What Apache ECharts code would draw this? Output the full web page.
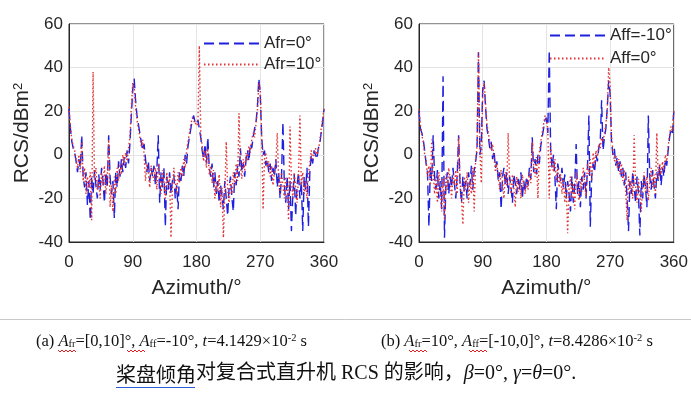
<!DOCTYPE html>
<html>
<head>
<meta charset="utf-8">
<script src="https://cdn.jsdelivr.net/npm/echarts@6/dist/echarts.min.js"></script>
<style>
html,body{margin:0;padding:0;background:#fff;}
#chart{width:691px;height:398px;}
</style>
</head>
<body>
<div id="chart"></div>
<script>
// Azimuth sample grid (degrees)
const azimuth = [
  0,2,4,6,8,10,12,14,16,18,
  20,22,24,26,28,30,32,34,36,38,
  40,42,44,46,48,50,52,54,56,58,
  60,62,64,66,68,70,72,74,76,78,
  80,82,84,86,88,90,92,94,96,98,
  100,102,104,106,108,110,112,114,116,118,
  120,122,124,126,128,130,132,134,136,138,
  140,142,144,146,148,150,152,154,156,158,
  160,162,164,166,168,170,172,174,176,178,
  180,182,184,186,188,190,192,194,196,198,
  200,202,204,206,208,210,212,214,216,218,
  220,222,224,226,228,230,232,234,236,238,
  240,242,244,246,248,250,252,254,256,258,
  260,262,264,266,268,270,272,274,276,278,
  280,282,284,286,288,290,292,294,296,298,
  300,302,304,306,308,310,312,314,316,318,
  320,322,324,326,328,330,332,334,336,338,
  340,342,344,346,348,350,352,354,356,358,
  360
];

// (a) Afr = 0°
const rcsAfr0 = [
  21,12,6,3,1,-3,-8,-2,-6,9,
  -10,-15,-8,-23,-12,-30,-10,-18,-7,-14,
  -20,-9,-16,-6,-12,-22,-8,-15,9,-10,
  -18,-12,-29,-8,-15,-3,-10,-2,-8,-1,
  -6,2,-4,5,18,30,35,25,18,14,
  10,6,2,5,-2,-8,-3,-12,-6,-10,
  -5,-14,-7,9,-22,-8,-15,-6,-33,-10,
  -16,-8,-18,-12,-9,-20,-14,-25,-8,-12,
  -5,-10,0,-4,4,8,12,16,18,15,
  14,16,12,8,2,-2,5,-4,8,-6,
  -10,-4,-15,-8,-18,-12,-22,-14,-19,-25,
  -12,-20,-28,-15,-10,-20,-26,-8,-14,-5,
  -10,3,-8,-4,-10,-2,2,-3,5,3,
  8,12,15,22,35,28,8,0,2,-5,
  -2,-8,-4,-12,-6,-10,-2,-15,-8,-20,
  -10,15,-14,-22,-10,-25,-12,-35,-18,-9,
  -28,-14,-8,-20,-12,-35,-10,-16,-6,-33,
  -8,0,-4,2,0,-2,3,5,10,15,
  21
];

// (a) Afr = 10°
const rcsAfr10 = [
  22,13,7,4,2,-2,-6,0,-8,6,
  -12,-6,-18,-10,-15,-8,-30,38,-12,-6,
  -16,-11,-20,-8,-14,-5,-18,-10,7,-24,
  -14,-26,-10,-18,-6,-12,-4,-9,0,-5,
  1,-3,3,8,22,33,31,22,16,12,
  8,4,7,0,-12,-4,-8,-15,-5,-9,
  -12,-6,-16,-4,-10,-18,-7,-12,-20,-8,
  -14,-10,-38,-15,-6,-12,-18,-8,-13,-6,
  -10,-2,-6,2,6,10,14,17,16,14,
  15,13,50,10,4,-3,2,-6,3,-9,
  -5,-13,-7,-20,-12,-17,-9,-24,-15,-38,
  -18,6,-16,-22,-12,-18,-8,-14,-4,-12,
  19,-6,-11,-2,-7,1,-3,4,1,7,
  10,8,14,20,33,30,10,-25,-2,1,
  -6,-3,-10,-5,-14,-8,-4,10,-12,-18,
  -8,-14,-20,-10,-16,-30,13,-12,-20,-8,
  -15,-22,-10,18,-14,-8,-18,-12,-20,-9,
  -4,2,-2,0,3,0,2,6,12,16,
  22
];

// (b) Aff = -10°
const rcsAffM10 = [
  20,12,10,7,2,-4,-8,-33,-6,-12,
  9,-10,-16,-7,-20,-12,-25,36,-38,-14,
  -8,-18,-10,-15,-6,-13,-20,-9,9,-14,
  -22,-10,-17,-12,-20,-8,-14,-5,-16,-7,
  -3,2,47,0,4,30,34,22,12,8,
  3,6,-2,2,-6,-3,-12,-8,-25,-10,
  -6,-14,-8,-18,-10,-15,-22,-9,-13,-18,
  -11,-16,-8,-20,-12,-17,-10,-14,-6,-11,
  8,-8,-2,-9,0,-4,4,8,12,16,
  17,10,48,2,-6,0,-10,-25,-4,-8,
  -12,-6,-15,-9,-20,-12,-18,-26,-10,-22,
  -14,5,-18,-12,-24,-10,-16,-8,-20,-6,
  18,-33,-10,-4,-8,0,-3,3,6,25,
  2,8,12,22,34,28,6,0,3,-5,
  -1,-8,-3,-10,-6,-14,-8,-20,-35,-12,
  -18,-8,-15,-22,-10,-17,-37,-12,-20,-9,
  -15,-24,18,-10,-16,-7,-14,-20,-8,-12,
  -5,-14,-6,-10,-2,-5,2,8,12,10,
  20
];

// (b) Aff = 0°
const rcsAff0 = [
  21,14,9,6,0,-2,-10,-5,-14,7,
  -8,-18,-10,-22,-8,-15,-26,-11,-30,-9,
  -16,-6,-12,-20,-9,-14,-7,-18,8,-12,
  -20,-32,-10,-16,-8,-22,-12,-18,-6,-26,
  -2,4,47,2,-13,28,33,24,14,10,
  6,2,5,-1,-8,-4,-10,-16,-7,-12,
  -20,-8,-14,10,-12,-18,-9,-15,-24,-10,
  -17,-12,-20,-9,-14,-18,-11,-16,-8,-13,
  6,-5,-10,-1,-20,1,6,10,14,18,
  16,12,-20,4,-3,-8,-2,-12,-6,-15,
  -9,-18,-11,-22,-14,-36,-16,-10,-20,-13,
  -25,-8,-15,-21,-11,-17,-6,-13,-19,-4,
  -9,-2,-12,1,-5,2,-1,5,3,8,
  6,10,14,20,40,32,8,2,-3,0,
  -6,-2,-9,-4,-12,-7,-16,-30,-10,-18,
  -12,-20,9,-14,-22,-11,-18,-26,-13,-8,
  -17,-10,-21,-12,-6,-15,-9,-18,10,-11,
  -4,-9,-3,-7,0,-3,4,9,13,11,
  21
];

const xTicks = [0, 90, 180, 270, 360];
const yTicks = [-40, -20, 0, 20, 40, 60];
const legendA = ['Afr=0°', 'Afr=10°'];
const legendB = ['Aff=-10°', 'Aff=0°'];

const SANS = "'Liberation Sans', Arial, sans-serif";
const SERIF = "'Liberation Serif', 'Times New Roman', 'Noto Sans CJK SC', serif";
const INK = '#262626';
const BLUE = '#1f1fe0';
const RED = '#e03333';

function pair(xs, ys) { return xs.map((x, i) => [x, ys[i]]); }

function xAxisCfg(gi) {
  return {
    type: 'value', gridIndex: gi, min: xTicks[0], max: xTicks[xTicks.length - 1], interval: 90,
    name: 'Azimuth/°', nameLocation: 'middle', nameGap: 36,
    nameTextStyle: { fontFamily: SANS, fontSize: 21, color: INK },
    axisLine: { show: true, onZero: false, lineStyle: { color: INK, width: 1 } },
    axisTick: { show: false },
    axisLabel: { fontFamily: SANS, fontSize: 17, color: INK, margin: 12 },
    splitLine: { show: true, lineStyle: { color: '#e4e4e4', width: 1 } }
  };
}
function yAxisCfg(gi) {
  return {
    type: 'value', gridIndex: gi, min: yTicks[0], max: yTicks[yTicks.length - 1], interval: 20,
    name: '{a|RCS/dBm}{s|2}', nameLocation: 'middle', nameGap: 36,
    nameTextStyle: {
      color: INK,
      rich: {
        a: { fontFamily: SANS, fontSize: 21, color: INK },
        s: { fontFamily: SANS, fontSize: 13, color: INK, verticalAlign: 'top' }
      }
    },
    axisLine: { show: true, onZero: false, lineStyle: { color: INK, width: 1 } },
    axisTick: { show: false },
    axisLabel: { fontFamily: SANS, fontSize: 17, color: INK, margin: 6 },
    splitLine: { show: true, lineStyle: { color: '#e4e4e4', width: 1 } }
  };
}
function lineSeries(name, gi, ys, color, dash) {
  return {
    type: 'line', name: name, xAxisIndex: gi, yAxisIndex: gi,
    data: pair(azimuth, ys), showSymbol: false, symbol: 'none',
    lineStyle: { color: color, width: 1.4, type: dash },
    itemStyle: { color: color },
    emphasis: { disabled: true }
  };
}
function legendCfg(names, left, top, gap) {
  return {
    data: names, orient: 'vertical', left: left, top: top, padding: 0,
    itemWidth: 55, itemHeight: 14, itemGap: gap, selectedMode: false,
    itemStyle: { opacity: 0 },
    textStyle: { fontFamily: SANS, fontSize: 17, color: INK }
  };
}

const chart = echarts.init(document.getElementById('chart'), null, { renderer: 'canvas' });

const capRich = {
  i: { fontFamily: SERIF, fontSize: 16.5, fontStyle: 'italic', color: '#111' },
  sub: { fontFamily: SERIF, fontSize: 10.5, color: '#111', verticalAlign: 'bottom' },
  sup: { fontFamily: SERIF, fontSize: 10.5, color: '#111', verticalAlign: 'top' },
  n: { fontFamily: SERIF, fontSize: 16.5, color: '#111' }
};

function squiggle(x0, x1, y) {
  const pts = [];
  let up = true;
  for (let x = x0; x <= x1; x += 2) { pts.push([x, up ? y - 1 : y + 1]); up = !up; }
  return { type: 'polyline', shape: { points: pts }, style: { stroke: '#e02020', lineWidth: 1, fill: null }, silent: true };
}

chart.setOption({
  animation: false,
  backgroundColor: '#ffffff',
  grid: [
    { left: 69, top: 24, width: 255, height: 218, show: true, borderColor: INK, borderWidth: 1, backgroundColor: 'transparent' },
    { left: 419, top: 24, width: 255, height: 218, show: true, borderColor: INK, borderWidth: 1, backgroundColor: 'transparent' }
  ],
  xAxis: [xAxisCfg(0), xAxisCfg(1)],
  yAxis: [yAxisCfg(0), yAxisCfg(1)],
  legend: [legendCfg(legendA, 203, 35, 4), legendCfg(legendB, 549, 27, 6)],
  series: [
    lineSeries(legendA[0], 0, rcsAfr0, BLUE, [10, 5]),
    lineSeries(legendA[1], 0, rcsAfr10, RED, [1.5, 2.5]),
    lineSeries(legendB[0], 1, rcsAffM10, BLUE, [10, 5]),
    lineSeries(legendB[1], 1, rcsAff0, RED, [1.5, 2.5])
  ],
  graphic: [
    { type: 'line', shape: { x1: 0, y1: 319.5, x2: 691, y2: 319.5 }, style: { stroke: '#c8c8c8', lineWidth: 1 }, silent: true },
    {
      type: 'text', left: 36, top: 333, silent: true,
      style: {
        text: '{n|(a) }{i|A}{sub|fr}{n|=[0,10]°, }{i|A}{sub|ff}{n|=-10°, }{i|t}{n|=4.1429×10}{sup|-2}{n| s}',
        rich: capRich, fontFamily: SERIF, fontSize: 16.5, fill: '#111'
      }
    },
    {
      type: 'text', left: 381, top: 333, silent: true,
      style: {
        text: '{n|(b) }{i|A}{sub|fr}{n|=10°, }{i|A}{sub|ff}{n|=[-10,0]°, }{i|t}{n|=8.4286×10}{sup|-2}{n| s}',
        rich: capRich, fontFamily: SERIF, fontSize: 16.5, fill: '#111'
      }
    },
    squiggle(58, 77, 351),
    squiggle(127, 145, 351),
    squiggle(409, 427, 351),
    squiggle(469, 487, 351),
    {
      type: 'text', left: 116, top: 364, silent: true,
      style: {
        text: '{g|桨盘倾角}{n|对复合式直升机 RCS 的影响，}{i|β}{n|=0°, }{i|γ}{n|=}{i|θ}{n|=0°.}',
        rich: {
          g: { fontFamily: "'Noto Sans CJK SC', sans-serif", fontSize: 20, color: '#333' },
          n: { fontFamily: SERIF, fontSize: 20, color: '#111' },
          i: { fontFamily: SERIF, fontSize: 20, fontStyle: 'italic', color: '#111' }
        },
        fontSize: 20, fill: '#111'
      }
    },
    { type: 'line', shape: { x1: 116, y1: 387.5, x2: 195, y2: 387.5 }, style: { stroke: '#2a5fd8', lineWidth: 1.2 }, silent: true }
  ]
});
</script>
</body>
</html>
